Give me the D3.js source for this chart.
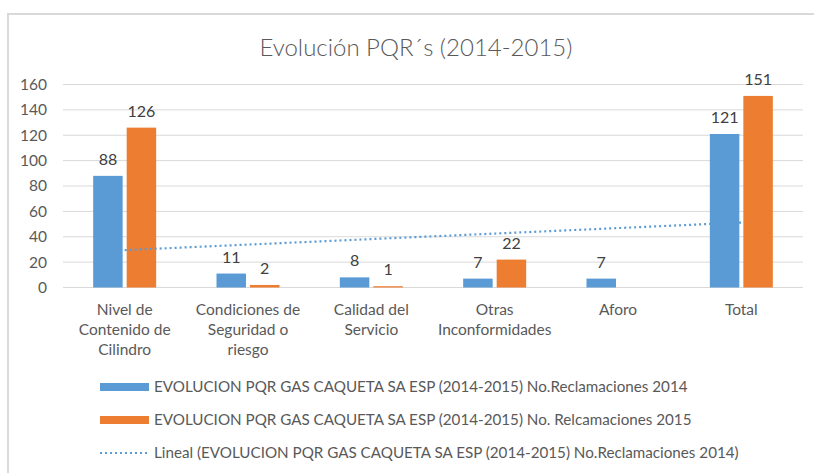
<!DOCTYPE html>
<html>
<head>
<meta charset="utf-8">
<script src="https://cdn.jsdelivr.net/npm/d3@7"></script>
<style>
  body { margin: 0; background: #fff; }
  svg text { font-family: Lato, "Open Sans", sans-serif; }
</style>
</head>
<body>
<svg id="chart" width="814" height="473"></svg>
<script>
// data
var categories = [
  ["Nivel de", "Contenido de", "Cilindro"],
  ["Condiciones de", "Seguridad o", "riesgo"],
  ["Calidad del", "Servicio"],
  ["Otras", "Inconformidades"],
  ["Aforo"],
  ["Total"]
];
var recl2014 = [88, 11, 8, 7, 7, 121];
var recl2015 = [126, 2, 1, 22, null, 151];
var yTicks = [0, 20, 40, 60, 80, 100, 120, 140, 160];
var seriesNames = [
  "EVOLUCION PQR GAS CAQUETA SA ESP (2014-2015) No.Reclamaciones 2014",
  "EVOLUCION PQR GAS CAQUETA SA ESP (2014-2015) No. Relcamaciones 2015",
  "Lineal (EVOLUCION PQR GAS CAQUETA SA ESP (2014-2015) No.Reclamaciones 2014)"
];

var blue = "#5b9bd5", orange = "#ed7d31", textCol = "#595959";

var svg = d3.select("#chart");

// chart frame
svg.append("rect")
  .attr("x", 8).attr("y", 14)
  .attr("width", 830).attr("height", 480)
  .attr("fill", "#fff")
  .attr("stroke", "#d9d9d9").attr("stroke-width", 2);

svg.append("text")
  .attr("x", 416).attr("y", 56)
  .attr("text-anchor", "middle")
  .attr("font-size", 24).attr("font-weight", 300)
  .attr("fill", textCol)
  .text("Evolución PQR´s (2014-2015)");

var plotL = 63, plotR = 803, plotT = 84.5, plotB = 287.5;

var x = d3.scaleBand().domain(d3.range(categories.length)).range([plotL, plotR]);
var xs = d3.scaleBand().domain([0, 1]).range([0, 63]).paddingInner(0.12);
var y = d3.scaleLinear().domain([0, 160]).range([plotB, plotT]);

// grid
svg.append("g").selectAll("line")
  .data(yTicks).enter().append("line")
  .attr("x1", plotL).attr("x2", plotR)
  .attr("y1", function (d) { return y(d); })
  .attr("y2", function (d) { return y(d); })
  .attr("stroke", "#d9d9d9").attr("stroke-width", 1);

// y labels
var yAxis = svg.append("g")
  .attr("transform", "translate(" + plotL + ",0)")
  .call(d3.axisLeft(y).tickValues(yTicks).tickSize(0).tickPadding(16));
yAxis.select(".domain").remove();
yAxis.selectAll("text")
  .attr("font-size", 15.5).attr("fill", textCol)
  .style("font-family", "Lato, sans-serif");

// bars
var series = [recl2014, recl2015];
var colors = [blue, orange];
series.forEach(function (vals, s) {
  var g = svg.append("g");
  var data = vals.map(function (v, i) { return {i: i, v: v}; })
    .filter(function (d) { return d.v !== null; });
  g.selectAll("rect").data(data).enter().append("rect")
    .attr("x", function (d) { return x(d.i) + (x.bandwidth() - 63) / 2 + xs(s); })
    .attr("width", xs.bandwidth())
    .attr("y", function (d) { return y(d.v); })
    .attr("height", function (d) { return plotB - y(d.v); })
    .attr("fill", colors[s]);
  g.selectAll("text").data(data).enter().append("text")
    .attr("x", function (d) { return x(d.i) + (x.bandwidth() - 63) / 2 + xs(s) + xs.bandwidth() / 2; })
    .attr("y", function (d) { return y(d.v) - 11; })
    .attr("text-anchor", "middle")
    .attr("font-size", 16).attr("fill", "#404040")
    .text(function (d) { return d.v; });
});

// linear trend of 2014
var xi = recl2014.map(function (d, i) { return i + 1; });
var mx = d3.mean(xi), my = d3.mean(recl2014);
var slope = d3.sum(xi, function (v, i) { return (v - mx) * (recl2014[i] - my); }) /
  d3.sum(xi, function (v) { return (v - mx) * (v - mx); });
var icpt = my - slope * mx;
var trend = [0, categories.length - 1].map(function (i) {
  return [x(i) + x.bandwidth() / 2, y(icpt + slope * (i + 1))];
});
svg.append("path")
  .attr("d", d3.line()(trend))
  .attr("fill", "none")
  .attr("stroke", blue).attr("stroke-width", 2.2)
  .attr("stroke-dasharray", "2,3");

// category labels
var xl = svg.append("g");
categories.forEach(function (lines, i) {
  var t = xl.append("text")
    .attr("x", x(i) + x.bandwidth() / 2)
    .attr("y", 315)
    .attr("text-anchor", "middle")
    .attr("font-size", 15.5).attr("fill", textCol);
  lines.forEach(function (l, k) {
    t.append("tspan")
      .attr("x", x(i) + x.bandwidth() / 2)
      .attr("dy", k === 0 ? 0 : 20)
      .text(l);
  });
});

// legend
var leg = svg.append("g");
var legY = [387, 420, 453];
seriesNames.forEach(function (n, k) {
  if (k < 2) {
    leg.append("rect")
      .attr("x", 100).attr("y", legY[k] - 4)
      .attr("width", 49).attr("height", 8)
      .attr("fill", colors[k]);
  } else {
    leg.append("line")
      .attr("x1", 100).attr("x2", 149)
      .attr("y1", legY[k]).attr("y2", legY[k])
      .attr("stroke", blue).attr("stroke-width", 2.2)
      .attr("stroke-dasharray", "2,3");
  }
  leg.append("text")
    .attr("x", 154).attr("y", legY[k] + 5)
    .attr("font-size", 15.2).attr("fill", textCol)
    .text(n);
});
</script>
</body>
</html>
